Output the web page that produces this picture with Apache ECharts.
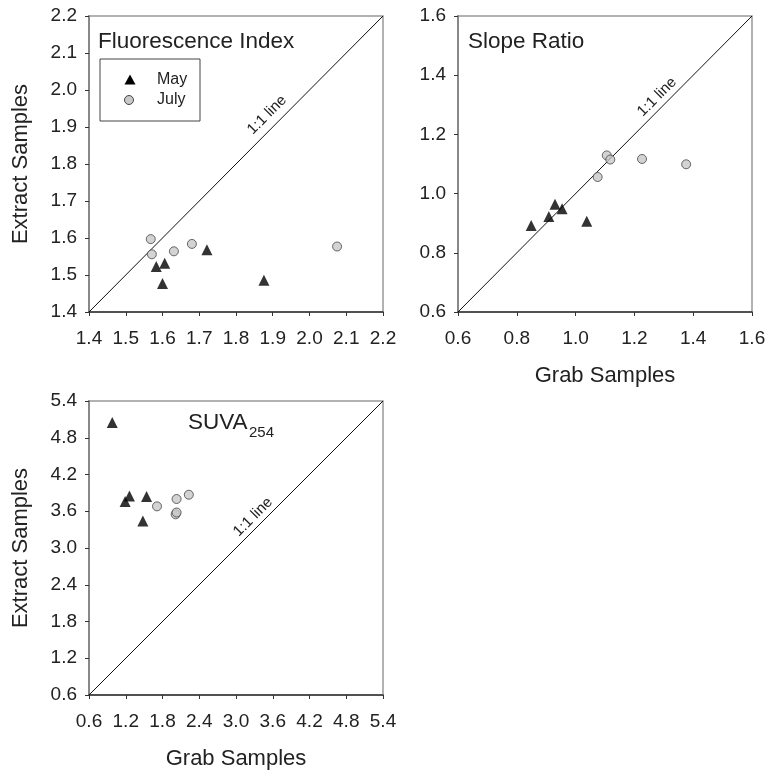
<!DOCTYPE html>
<html>
<head>
<meta charset="utf-8">
<script src="https://cdn.jsdelivr.net/npm/echarts@6/dist/echarts.min.js"></script>
<style>
  html, body { margin: 0; padding: 0; background: #fff; }
  #chart { width: 776px; height: 773px; }
</style>
</head>
<body>
<div id="chart"></div>
<script>
// Fluorescence Index (grab vs extract)
const fiMay = [[1.583, 1.523], [1.606, 1.532], [1.600, 1.477], [1.721, 1.568], [1.876, 1.486]];
const fiJuly = [[1.568, 1.597], [1.571, 1.556], [1.631, 1.564], [1.680, 1.584], [2.075, 1.577]];
// Slope Ratio
const srMay = [[0.849, 0.892], [0.909, 0.923], [0.930, 0.964], [0.954, 0.949], [1.038, 0.907]];
const srJuly = [[1.106, 1.129], [1.118, 1.115], [1.075, 1.056], [1.226, 1.117], [1.376, 1.099]];
// SUVA254
const suvaMay = [[0.98, 5.05], [1.19, 3.76], [1.26, 3.85], [1.54, 3.84], [1.48, 3.44]];
const suvaJuly = [[1.71, 3.68], [2.03, 3.80], [2.23, 3.87], [2.015, 3.55], [2.03, 3.58]];

// axis ranges [min, max, interval]
const fiRange = [1.4, 2.2, 0.1];
const srRange = [0.6, 1.6, 0.2];
const suvaRange = [0.6, 5.4, 0.6];

const FONT = "Liberation Sans";
const chart = echarts.init(document.getElementById("chart"));

const grids = [
  { left: 89, top: 16, width: 294, height: 296 },
  { left: 458, top: 16, width: 294, height: 296 },
  { left: 89, top: 401, width: 294, height: 294 },
];

function makeAxis(range, idx, isX, name) {
  return {
    type: "value",
    gridIndex: idx,
    min: range[0],
    max: range[1],
    interval: range[2],
    name: name || "",
    nameLocation: "middle",
    nameGap: isX ? 53 : 57,
    nameTextStyle: { fontFamily: FONT, fontSize: 22, color: "#222" },
    axisLine: { show: true, lineStyle: { color: isX ? "#333" : "#888", width: isX ? 1.5 : 2 } },
    axisTick: { show: true, inside: false, length: 4, lineStyle: { color: "#333" } },
    axisLabel: {
      fontFamily: FONT,
      fontSize: 19,
      color: "#222",
      margin: isX ? 17 : 12,
      formatter: (v) => v.toFixed(1),
    },
    splitLine: { show: false },
  };
}

function diag(range, idx) {
  return {
    type: "line",
    xAxisIndex: idx,
    yAxisIndex: idx,
    data: [[range[0], range[0]], [range[1], range[1]]],
    showSymbol: false,
    symbol: "none",
    lineStyle: { color: "#111", width: 1 },
    silent: true,
    z: 1,
  };
}

function may(data, idx) {
  return {
    name: "May",
    type: "scatter",
    xAxisIndex: idx,
    yAxisIndex: idx,
    data: data,
    symbol: "triangle",
    symbolSize: 11,
    itemStyle: { color: "#000" },
    z: 3,
  };
}

function july(data, idx) {
  return {
    name: "July",
    type: "scatter",
    xAxisIndex: idx,
    yAxisIndex: idx,
    data: data,
    symbol: "circle",
    symbolSize: 9,
    itemStyle: { color: "#c8c8c8", borderColor: "#444", borderWidth: 1 },
    z: 3,
  };
}

function lineLabel(x, y) {
  return {
    type: "text",
    x: x,
    y: y,
    rotation: Math.PI / 4,
    style: {
      text: "1:1 line",
      fontFamily: FONT,
      fontSize: 15,
      fill: "#222",
      align: "center",
      verticalAlign: "middle",
    },
  };
}

function titleText(x, y, text, size) {
  return {
    type: "text",
    x: x,
    y: y,
    style: {
      text: text,
      fontFamily: FONT,
      fontSize: size,
      fill: "#222",
      align: "left",
      verticalAlign: "middle",
    },
  };
}

const option = {
  animation: false,
  grid: grids.map((g) => ({
    ...g,
    show: true,
    borderColor: "#999",
    borderWidth: 1.5,
    backgroundColor: "transparent",
  })),
  xAxis: [
    makeAxis(fiRange, 0, true, ""),
    makeAxis(srRange, 1, true, "Grab Samples"),
    makeAxis(suvaRange, 2, true, "Grab Samples"),
  ],
  yAxis: [
    makeAxis(fiRange, 0, false, "Extract Samples"),
    makeAxis(srRange, 1, false, ""),
    makeAxis(suvaRange, 2, false, "Extract Samples"),
  ],
  series: [
    diag(fiRange, 0),
    may(fiMay, 0),
    july(fiJuly, 0),
    diag(srRange, 1),
    may(srMay, 1),
    july(srJuly, 1),
    diag(suvaRange, 2),
    may(suvaMay, 2),
    july(suvaJuly, 2),
  ],
  graphic: [
    titleText(98, 42, "Fluorescence Index", 22.5),
    titleText(468, 42, "Slope Ratio", 22.5),
    titleText(188, 423, "SUVA", 22.5),
    titleText(249, 433, "254", 15),
    {
      type: "rect",
      shape: { x: 100, y: 59, width: 100, height: 62 },
      style: { fill: "#fff", stroke: "#444", lineWidth: 1 },
      z: 10,
    },
    {
      type: "polygon",
      shape: { points: [[130, 74.5], [135.5, 84.5], [124.5, 84.5]] },
      style: { fill: "#000" },
      z: 11,
    },
    {
      type: "circle",
      shape: { cx: 129, cy: 100, r: 4.5 },
      style: { fill: "#c8c8c8", stroke: "#444", lineWidth: 1 },
      z: 11,
    },
    Object.assign(titleText(157, 80, "May", 16), { z: 11 }),
    Object.assign(titleText(157, 100, "July", 16), { z: 11 }),
    lineLabel(267, 115),
    lineLabel(657, 97),
    lineLabel(253, 517),
  ],
};

chart.setOption(option);
</script>
</body>
</html>
